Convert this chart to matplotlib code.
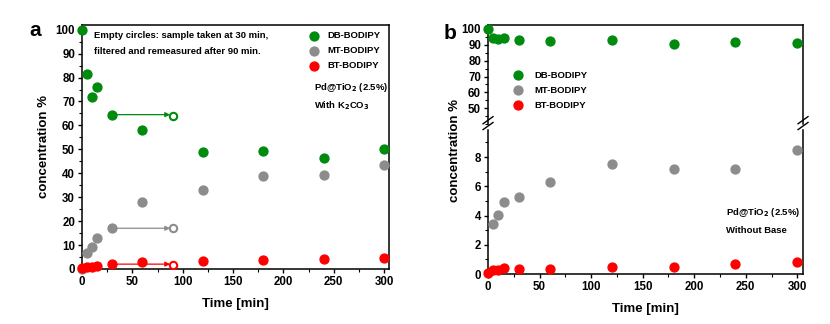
import numpy as np
import matplotlib.pyplot as plt
from matplotlib.ticker import MultipleLocator

plt.rcParams['font.family'] = ['Liberation Sans', 'DejaVu Sans']
plt.rcParams['font.weight'] = 'bold'

# data
time = [0, 5, 10, 15, 30, 60, 120, 180, 240, 300]

# panel a: with K2CO3
db_a = [100, 81.5, 72, 76, 64.5, 58, 49, 49.2, 46.3, 50]
mt_a = [0, 6.8, 9.2, 12.8, 17, 28, 33.2, 39, 39.4, 43.5]
bt_a = [0.3, 0.8, 1.0, 1.3, 2.0, 2.8, 3.5, 3.7, 4.0, 4.6]
# empty circles: sample at 30 min, remeasured at 90 min
t_filt = [30, 90]
db_filt = 63.8
mt_filt = 17.3
bt_filt = 1.6

# panel b: without base
db_b = [100, 94.5, 93.5, 94.5, 93.3, 92.3, 93.3, 90.5, 91.5, 91.3]
mt_b = [0, 3.4, 4.05, 4.95, 5.25, 6.3, 7.5, 7.2, 7.2, 8.5]
bt_b = [0.05, 0.3, 0.3, 0.4, 0.35, 0.35, 0.5, 0.5, 0.7, 0.8]

labels = ['DB-BODIPY', 'MT-BODIPY', 'BT-BODIPY']
colors = ['#008a0e', '#8c8c8c', '#ff0000']

fig = plt.figure(figsize=(8.30, 3.24), dpi=100)
ms = 6.4
fs_lab = 9.5
fs_txt = 6.8


def style(ax):
    ax.tick_params(direction='out', length=3, width=1, labelsize=8.3, pad=2)
    ax.tick_params(which='minor', direction='out', length=2, width=0.8)
    for s in ax.spines.values():
        s.set_linewidth(1.1)
    for lab in ax.get_xticklabels() + ax.get_yticklabels():
        lab.set_fontweight('bold')


# ---------- panel a ----------
ax = fig.add_axes([0.0988, 0.170, 0.370, 0.753])
for y, c in zip([db_a, mt_a, bt_a], colors):
    ax.plot(time, y, 'o', color=c, ms=ms, mec=c, clip_on=False, zorder=3)
for y0, y1, c in zip([db_a[4], mt_a[4], bt_a[4]], [db_filt, mt_filt, bt_filt], colors):
    ax.annotate('', xy=(t_filt[1] - 2.5, y0), xytext=(t_filt[0], y0),
                arrowprops=dict(arrowstyle='-|>', color=c, lw=0.9, mutation_scale=7,
                                shrinkA=0, shrinkB=0))
    ax.plot(t_filt[1], y1, 'o', mfc='white', mec=c, mew=1.5, ms=5.3, zorder=4)
ax.set_xlim(0, 305)
ax.set_ylim(0, 102)
ax.xaxis.set_major_locator(MultipleLocator(50))
ax.xaxis.set_minor_locator(MultipleLocator(25))
ax.yaxis.set_major_locator(MultipleLocator(10))
ax.yaxis.set_minor_locator(MultipleLocator(5))
ax.set_xlabel('Time [min]', fontsize=fs_lab, fontweight='bold', labelpad=7)
ax.set_ylabel('concentration %', fontsize=fs_lab, fontweight='bold', labelpad=4)
style(ax)

ax.text(0.04, 0.955, 'Empty circles: sample taken at 30 min,', transform=ax.transAxes,
        fontsize=fs_txt, fontweight='bold', va='center')
ax.text(0.04, 0.89, 'filtered and remeasured after 90 min.', transform=ax.transAxes,
        fontsize=fs_txt, fontweight='bold', va='center')
for i, (lab, c) in enumerate(zip(labels, colors)):
    yy = 0.955 - i * 0.061
    ax.plot(0.755, yy, 'o', color=c, ms=ms, transform=ax.transAxes, clip_on=False)
    ax.text(0.80, yy, lab, transform=ax.transAxes, fontsize=fs_txt, fontweight='bold',
            va='center')
ax.text(0.757, 0.745, r'Pd@TiO$_\mathbf{2}$ (2.5%)', transform=ax.transAxes,
        fontsize=fs_txt, fontweight='bold', va='center')
ax.text(0.757, 0.668, r'With K$_\mathbf{2}$CO$_\mathbf{3}$', transform=ax.transAxes,
        fontsize=fs_txt, fontweight='bold', va='center')
fig.text(0.035, 0.905, 'a', fontsize=15, fontweight='bold', va='center')

# ---------- panel b (broken axis) ----------
axt = fig.add_axes([0.588, 0.617, 0.3795, 0.306])
axb = fig.add_axes([0.588, 0.154, 0.3795, 0.445])
for a in (axt, axb):
    for y, c in zip([db_b, mt_b, bt_b], colors):
        a.plot(time, y, 'o', color=c, ms=ms, mec=c, zorder=3)
    a.set_xlim(0, 305.5)
    a.xaxis.set_major_locator(MultipleLocator(50))
    a.xaxis.set_minor_locator(MultipleLocator(25))
axt.set_ylim(40, 102.5)
axb.set_ylim(0, 9.85)
# only the points at the axis edges may overhang
axt.lines[0].set_clip_on(False)
axb.lines[2].set_clip_on(False)

axt.yaxis.set_minor_locator(MultipleLocator(5))
axt.set_yticks([50, 60, 70, 80, 90, 100])
axb.yaxis.set_major_locator(MultipleLocator(2))
axb.yaxis.set_minor_locator(MultipleLocator(1))
axt.spines['bottom'].set_visible(False)
axb.spines['top'].set_visible(False)
axt.tick_params(axis='x', which='both', bottom=False, labelbottom=False)
style(axt)
style(axb)
axb.set_xlabel('Time [min]', fontsize=fs_lab, fontweight='bold', labelpad=7)
fig.text(0.548, 0.537, 'concentration %', rotation=90, fontsize=fs_lab, fontweight='bold',
         ha='center', va='center')

# break marks
for xx in (0.0, 1.0):
    for dy in (0.0, 0.018):
        fig.add_artist(plt.Line2D(
            [0.588 + xx * 0.3795 - 0.006, 0.588 + xx * 0.3795 + 0.006],
            [0.600 + dy, 0.622 + dy], color='black', lw=1.0, transform=fig.transFigure))

for i, (lab, c) in enumerate(zip(labels, colors)):
    yy = 0.495 - i * 0.152
    axt.plot(0.095, yy, 'o', color=c, ms=ms, transform=axt.transAxes, clip_on=False)
    axt.text(0.148, yy, lab, transform=axt.transAxes, fontsize=fs_txt, fontweight='bold',
             va='center')
axb.text(0.755, 0.43, r'Pd@TiO$_\mathbf{2}$ (2.5%)', transform=axb.transAxes,
         fontsize=fs_txt, fontweight='bold', va='center')
axb.text(0.755, 0.30, 'Without Base', transform=axb.transAxes,
         fontsize=fs_txt, fontweight='bold', va='center')
fig.text(0.535, 0.898, 'b', fontsize=15, fontweight='bold', va='center')

fig.savefig('out.png', dpi=100)
